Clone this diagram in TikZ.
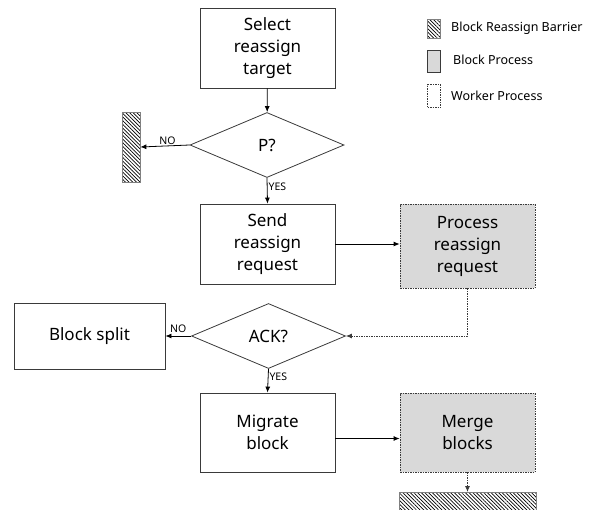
\documentclass[tikz,border=0pt]{standalone}
\usepackage{fontspec}
\setmainfont{Noto Sans}
\usetikzlibrary{shapes.geometric,arrows.meta,patterns.meta}
\definecolor{procgray}{HTML}{D9D9D9}
\definecolor{edgegray}{HTML}{3A3A3A}
\tikzset{
  box/.style={draw=edgegray, line width=0.8pt, minimum width=135pt, minimum height=80pt,
    align=center, inner sep=0pt, font=\fontsize{17}{22}\selectfont},
  procbox/.style={box, fill=procgray, dashed, dash pattern=on 1.5pt off 1pt, minimum height=84pt},
  decision/.style={diamond, draw=edgegray, line width=0.8pt, minimum width=154pt,
    minimum height=65pt, inner sep=0pt, shape aspect=2.4, font=\fontsize{17}{22}\selectfont},
  barrier/.style={draw=gray, line width=0.6pt,
    pattern={Lines[angle=-45, distance=2.6pt, line width=0.7pt]}},
  flow/.style={draw=black, line width=0.8pt, -{Latex[length=6pt,width=5pt]}},
  dflow/.style={flow, draw=edgegray, dash pattern=on 1.5pt off 1pt},
  lbl/.style={font=\fontsize{10.5}{12}\selectfont, inner sep=1pt},
  legtext/.style={font=\fontsize{12.5}{14}\selectfont, anchor=west, inner sep=0pt},
}
\begin{document}
\begin{tikzpicture}[x=1pt, y=-1pt]
\clip (0,0) rectangle (597,509);

% main flow
\node[box] (select) at (267.5,48) {Select\\reassign\\target};
\node[decision] (p) at (267,145) {P?};
\node[barrier, minimum width=18pt, minimum height=70pt, inner sep=0pt] (bar1) at (131,147) {};
\node[box] (send) at (267.5,244) {Send\\reassign\\request};
\node[procbox] (proc) at (467.5,246) {Process\\reassign\\request};
\node[decision] (ack) at (268.5,336) {ACK?};
\node[box, minimum width=151pt, minimum height=66pt] (split) at (89.5,336) {Block split};
\node[box, minimum height=79pt] (migrate) at (267.5,432.5) {Migrate\\block};
\node[procbox, minimum height=79pt] (merge) at (467.5,432.5) {Merge\\blocks};
\node[barrier, minimum width=137pt, minimum height=30pt, inner sep=0pt, anchor=north] (bar2) at (467.5,492) {};

% connectors
\draw[flow] (select) -- (p);
\draw[flow] (p.west) -- (bar1.east) node[lbl, pos=0.45, above] {NO};
\draw[flow] (p.south) -- (send.north) node[lbl, pos=0.35, right] {YES};
\draw[flow] (send.east) -- (send.east -| proc.west);
\draw[dflow] (proc.south) |- (ack.east);
\draw[flow] (ack.west) -- (split.east) node[lbl, pos=0.5, above, yshift=2pt] {NO};
\draw[flow] (ack.south) -- (migrate.north) node[lbl, pos=0.35, right] {YES};
\draw[flow] ([yshift=-6pt]migrate.east) -- ([yshift=-6pt]migrate.east -| merge.west);
\draw[dflow] (merge.south) -- (bar2.north);

% legend
\node[barrier, minimum width=13pt, minimum height=19pt, inner sep=0pt] (lgb) at (434,29) {};
\node[legtext] at (451,28) {Block Reassign Barrier};
\node[draw=edgegray, fill=procgray, line width=0.6pt, minimum width=13pt, minimum height=22pt, inner sep=0pt] (lgp) at (434,61) {};
\node[legtext] at (453,60) {Block Process};
\node[draw=edgegray, dash pattern=on 1.5pt off 1pt, line width=0.6pt, minimum width=13pt, minimum height=23pt, inner sep=0pt] (lgw) at (434,96) {};
\node[legtext] at (451,96) {Worker Process};
\end{tikzpicture}
\end{document}
